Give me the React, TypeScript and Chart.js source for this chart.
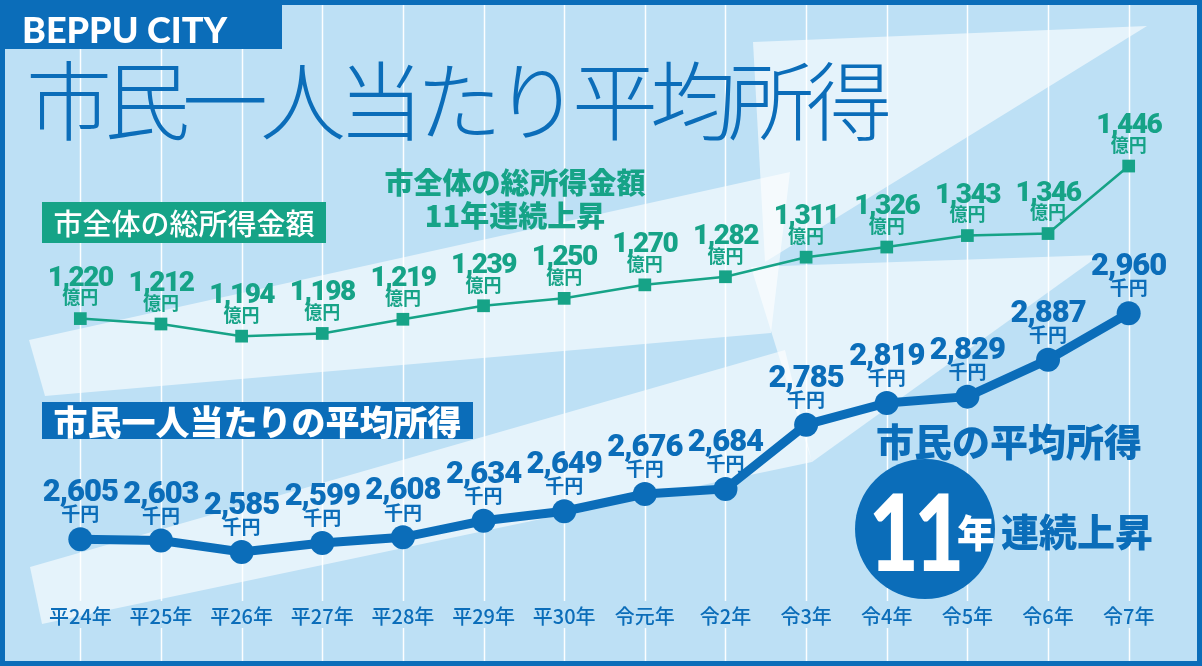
import React, { useEffect, useRef } from 'react';
import { Chart, registerables } from 'chart.js';

Chart.register(...registerables);

// 年度
const years = [
  '平24年', '平25年', '平26年', '平27年', '平28年', '平29年', '平30年',
  '令元年', '令2年', '令3年', '令4年', '令5年', '令6年', '令7年',
];
// 市全体の総所得金額（億円）
const totalIncome = [1220, 1212, 1194, 1198, 1219, 1239, 1250, 1270, 1282, 1311, 1326, 1343, 1346, 1446];
// 市民一人当たりの平均所得（千円）
const averageIncome = [2605, 2603, 2585, 2599, 2608, 2634, 2649, 2676, 2684, 2785, 2819, 2829, 2887, 2960];

const BLUE = '#0b6db9';
const TEAL = '#16a387';
const BG = '#bde0f5';
const JP = '"Noto Sans CJK JP", "Noto Sans", sans-serif';

// background: light blue, two big white arrows, white column lines
const backdropPlugin = {
  id: 'backdrop',
  beforeDraw(chart: any) {
    const { ctx, width, height } = chart;
    const xScale = chart.scales.x;
    ctx.save();
    ctx.fillStyle = BG;
    ctx.fillRect(0, 0, width, height);

    const poly = (pts: number[][]) => {
      ctx.beginPath();
      pts.forEach(([px, py], i) => (i ? ctx.lineTo(px, py) : ctx.moveTo(px, py)));
      ctx.closePath();
      ctx.fill();
    };
    ctx.fillStyle = 'rgba(255,255,255,0.6)';
    // upper arrow
    poly([[29, 340], [790, 172], [771, 333], [45, 396]]);
    poly([[753, 42], [1147, 26], [765, 262]]);
    // lower arrow
    poly([[30, 567], [785, 350], [812, 462], [42, 624]]);
    poly([[751, 267], [1100, 255], [812, 462]]);

    ctx.strokeStyle = 'rgba(255,255,255,0.95)';
    ctx.lineWidth = 1.5;
    years.forEach((_, i) => {
      const x = Math.round(xScale.getPixelForValue(i)) + 0.5;
      ctx.beginPath();
      ctx.moveTo(x, 0);
      ctx.lineTo(x, 601);
      ctx.moveTo(x, 628);
      ctx.lineTo(x, height);
      ctx.stroke();
    });
    ctx.restore();
  },
  afterDraw(chart: any) {
    const { ctx, width, height } = chart;
    ctx.save();
    ctx.strokeStyle = BLUE;
    ctx.lineWidth = 5;
    ctx.strokeRect(2.5, 2.5, width - 5, height - 5);
    ctx.restore();
  },
};

// number + unit above every point
const valueLabelPlugin = {
  id: 'valueLabels',
  afterDatasetsDraw(chart: any) {
    const { ctx } = chart;
    chart.data.datasets.forEach((ds: any, di: number) => {
      const meta = chart.getDatasetMeta(di);
      const green = di === 0;
      meta.data.forEach((pt: any, i: number) => {
        const v = ds.data[i] as number;
        ctx.save();
        ctx.fillStyle = green ? TEAL : BLUE;
        ctx.textAlign = 'center';
        ctx.textBaseline = 'alphabetic';
        ctx.font = green ? '900 28px Roboto' : '900 31px Roboto';
        ctx.letterSpacing = green ? '-1.5px' : '-1px';
        ctx.fillText(v.toLocaleString('en-US'), pt.x, pt.y - (green ? 33 : 38));
        ctx.letterSpacing = '0px';
        ctx.textBaseline = 'middle';
        ctx.font = `bold ${green ? 18 : 19}px ${JP}`;
        ctx.fillText(green ? '億円' : '千円', pt.x, pt.y - (green ? 21 : 25));
        ctx.restore();
      });
    });
  },
};

const IncomeChart: React.FC = () => {
  const chartRef = useRef<HTMLCanvasElement>(null);
  const chartInstance = useRef<Chart | null>(null);

  useEffect(() => {
    if (!chartRef.current) return;
    if (chartInstance.current) chartInstance.current.destroy();

    chartInstance.current = new Chart(chartRef.current, {
      type: 'line',
      data: {
        labels: years,
        datasets: [
          {
            label: '市全体の総所得金額',
            data: totalIncome,
            yAxisID: 'yTotal',
            borderColor: TEAL,
            borderWidth: 2.5,
            pointStyle: 'rect',
            pointRadius: 9,
            pointBackgroundColor: TEAL,
            pointBorderWidth: 0,
            tension: 0,
          },
          {
            label: '市民一人当たりの平均所得',
            data: averageIncome,
            yAxisID: 'yAvg',
            borderColor: BLUE,
            borderWidth: 9,
            pointStyle: 'circle',
            pointRadius: 12,
            pointBackgroundColor: BLUE,
            pointBorderWidth: 0,
            tension: 0,
          },
        ],
      },
      plugins: [backdropPlugin, valueLabelPlugin],
      options: {
        responsive: true,
        maintainAspectRatio: false,
        animation: false,
        layout: { autoPadding: false, padding: { left: 40, right: 33, top: 0, bottom: 0 } },
        plugins: {
          legend: { display: false },
          tooltip: { enabled: false },
        },
        scales: {
          x: {
            offset: true,
            grid: { display: false, drawTicks: false },
            border: { display: false },
            afterFit: (scale: any) => {
              scale.height = 72;
            },
            ticks: {
              color: BLUE,
              padding: 10,
              maxRotation: 0,
              autoSkip: false,
              font: { family: JP, size: 20, weight: 500 },
            },
          },
          yTotal: {
            display: false,
            min: 812,
            max: 1692,
          },
          yAvg: {
            display: false,
            min: 2519,
            max: 3452,
          },
        },
      },
    });

    return () => {
      if (chartInstance.current) {
        chartInstance.current.destroy();
        chartInstance.current = null;
      }
    };
  }, []);

  return <canvas ref={chartRef}></canvas>;
};

const abs = (s: React.CSSProperties): React.CSSProperties => ({ position: 'absolute', margin: 0, whiteSpace: 'nowrap', ...s });

export default function App() {
  useEffect(() => {
    document.body.style.margin = '0';
  }, []);

  return (
    <div style={{ position: 'relative', width: 1202, height: 666, overflow: 'hidden', fontFamily: JP }}>
      <IncomeChart />

      {/* header tab */}
      <div style={abs({ left: 0, top: 0, width: 282, height: 49, background: BLUE })} />
      <div style={abs({ left: 22, top: 11, fontFamily: 'Lato, sans-serif', fontWeight: 900, fontSize: 36, lineHeight: '36px', color: '#fff' })}>
        BEPPU CITY
      </div>

      {/* big title */}
      <div style={abs({ left: 26, top: 54, fontSize: 86, lineHeight: '86px', fontWeight: 300, letterSpacing: -8, color: BLUE })}>
        市民一人当たり平均所得
      </div>

      {/* series tags */}
      <div style={abs({ left: 42, top: 202, width: 284, height: 41, background: TEAL, color: '#fff', fontSize: 29, lineHeight: '41px', fontWeight: 500, textAlign: 'center' })}>
        市全体の総所得金額
      </div>
      <div style={abs({ left: 42, top: 402, width: 431, height: 37, background: BLUE, color: '#fff', fontSize: 34, lineHeight: '37px', fontWeight: 900, textAlign: 'center' })}>
        市民一人当たりの平均所得
      </div>

      {/* green headline */}
      <div style={abs({ left: 515, top: 198, transform: 'translate(-50%,-50%)', color: TEAL, fontSize: 29, lineHeight: '33px', fontWeight: 900, textAlign: 'center' })}>
        市全体の総所得金額
        <br />
        11年連続上昇
      </div>

      {/* blue headline + badge */}
      <div style={abs({ left: 1009, top: 440, transform: 'translate(-50%,-50%)', color: BLUE, fontSize: 38, lineHeight: '38px', fontWeight: 900 })}>
        市民の平均所得
      </div>
      <div style={abs({ left: 855, top: 459, width: 140, height: 140, borderRadius: '50%', background: BLUE })} />
      <div style={abs({ left: 914, top: 530, transform: 'translate(-50%,-50%) scaleX(0.82)', color: '#fff', fontFamily: 'Lato, sans-serif', fontWeight: 900, fontSize: 106, lineHeight: '106px', letterSpacing: -6 })}>
        11
      </div>
      <div style={abs({ left: 976, top: 531, transform: 'translate(-50%,-50%)', color: '#fff', fontSize: 38, lineHeight: '38px', fontWeight: 900 })}>
        年
      </div>
      <div style={abs({ left: 1077, top: 530, transform: 'translate(-50%,-50%)', color: BLUE, fontSize: 38, lineHeight: '38px', fontWeight: 900 })}>
        連続上昇
      </div>
    </div>
  );
}
